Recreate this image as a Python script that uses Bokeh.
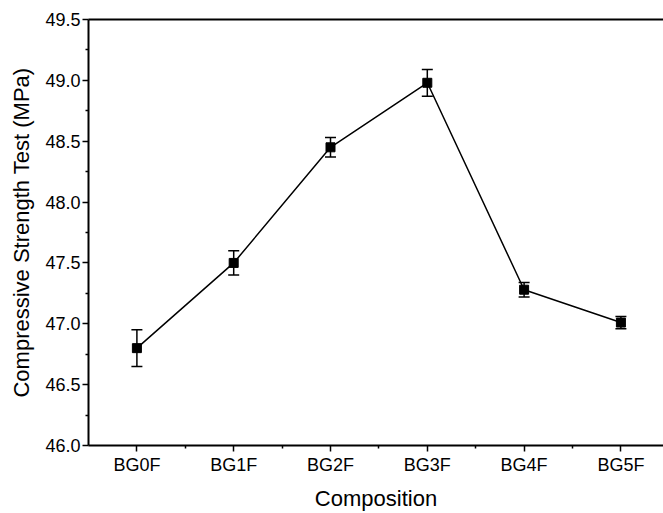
from bokeh.plotting import figure
from bokeh.models import (ColumnDataSource, Whisker, TeeHead, FixedTicker,
                          LinearAxis, Range1d, PrintfTickFormatter)
from bokeh.embed import file_html
from bokeh.resources import INLINE

categories = ["BG0F", "BG1F", "BG2F", "BG3F", "BG4F", "BG5F"]
strength = [46.80, 47.50, 48.45, 48.98, 47.28, 47.01]
error = [0.15, 0.10, 0.08, 0.11, 0.06, 0.05]
y_ticks = [46.0, 46.5, 47.0, 47.5, 48.0, 48.5, 49.0, 49.5]
y_minor = [46.25, 46.75, 47.25, 47.75, 48.25, 48.75, 49.25]
x_title = "Composition"
y_title = "Compressive Strength Test (MPa)"

xpos = list(range(len(categories)))
src = ColumnDataSource(dict(
    x=xpos, y=strength,
    upper=[s + e for s, e in zip(strength, error)],
    lower=[s - e for s, e in zip(strength, error)],
))

FONT = "Liberation Sans"

p = figure(width=663, height=513, x_range=Range1d(-0.5, 5.44),
           y_range=Range1d(46.0, 49.5), output_backend="svg",
           toolbar_location=None, min_border_left=88, min_border_right=0,
           min_border_top=19, min_border_bottom=67)
p.xgrid.visible = False
p.ygrid.visible = False
p.outline_line_color = None
p.background_fill_color = "white"
p.border_fill_color = "white"

for ax in (p.xaxis[0], p.yaxis[0]):
    ax.axis_line_color = "black"
    ax.axis_line_width = 2
    ax.major_tick_line_color = "black"
    ax.minor_tick_line_color = "black"
    ax.major_tick_line_width = 1.5
    ax.minor_tick_line_width = 1.5
    ax.major_tick_in = 0
    ax.major_tick_out = 6
    ax.minor_tick_in = 0
    ax.minor_tick_out = 3
    ax.major_label_text_font = FONT
    ax.major_label_text_font_size = "18px"
    ax.major_label_text_color = "black"
    ax.major_label_text_line_height = 1.0
    ax.axis_label_text_font = FONT
    ax.axis_label_text_font_size = "22px"
    ax.axis_label_text_font_style = "normal"
    ax.axis_label_text_color = "black"
    ax.axis_label_text_line_height = 1.0

p.xaxis.ticker = FixedTicker(ticks=xpos, minor_ticks=[i + 0.5 for i in range(len(categories) - 1)])
p.xaxis.major_label_overrides = {i: c for i, c in enumerate(categories)}
p.xaxis.axis_label = x_title
p.xaxis.major_label_standoff = 3
p.xaxis.axis_label_standoff = 8

p.yaxis.ticker = FixedTicker(ticks=y_ticks, minor_ticks=y_minor)
p.yaxis.formatter = PrintfTickFormatter(format="%.1f")
p.yaxis.axis_label = y_title
p.yaxis.major_label_standoff = 2
p.yaxis.axis_label_standoff = 8

top = LinearAxis(ticker=FixedTicker(ticks=[]), axis_line_color="black",
                 axis_line_width=2, major_tick_line_color=None,
                 minor_tick_line_color=None, major_label_text_font_size="0px")
p.add_layout(top, "above")

p.line("x", "y", source=src, line_color="black", line_width=1.5)
p.add_layout(Whisker(source=src, base="x", upper="upper", lower="lower",
                     line_color="black", line_width=1.5,
                     upper_head=TeeHead(size=11, line_color="black", line_width=1.5),
                     lower_head=TeeHead(size=11, line_color="black", line_width=1.5)))
p.scatter("x", "y", source=src, marker="square", size=9,
          fill_color="black", line_color="black")

open("out.html", "w").write(file_html(p, INLINE))
